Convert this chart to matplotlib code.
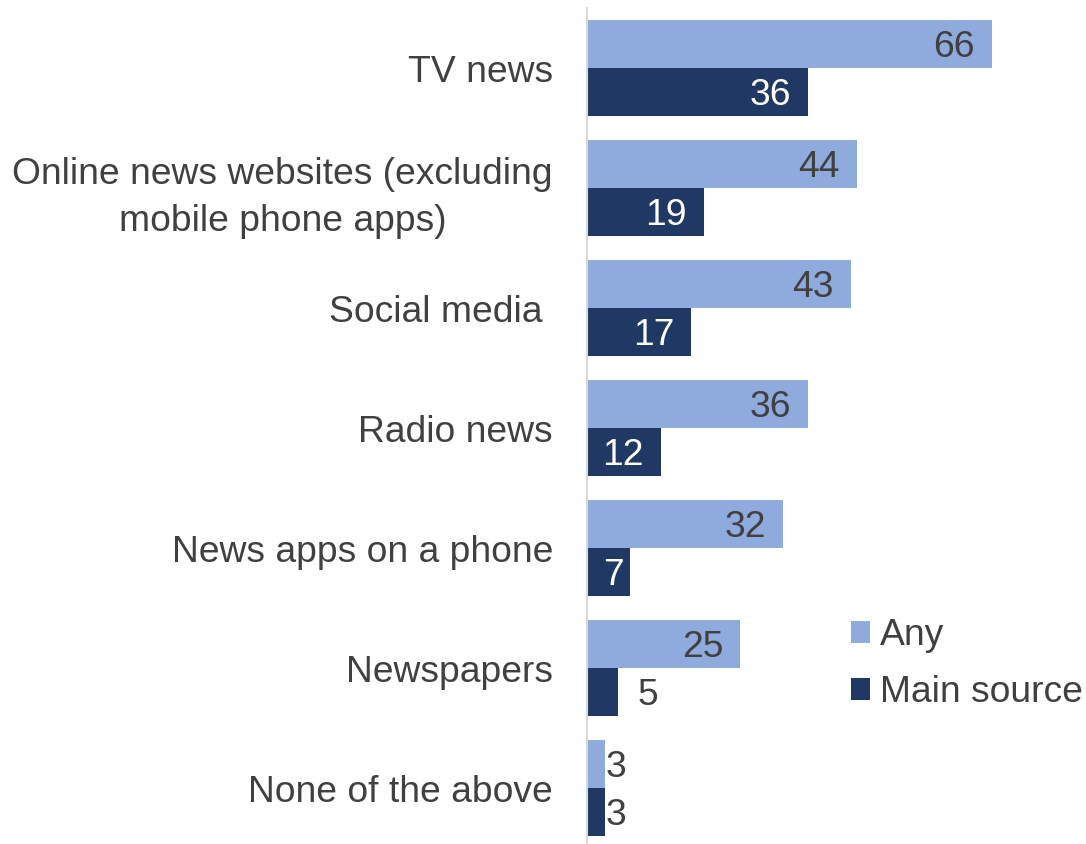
import matplotlib
matplotlib.use("Agg")
import matplotlib.pyplot as plt
import numpy as np

categories = ["TV news", "Online news websites (excluding\nmobile phone apps)", "Social media ",
              "Radio news", "News apps on a phone", "Newspapers", "None of the above"]
any_vals = [66, 44, 43, 36, 32, 25, 3]
main_vals = [36, 19, 17, 12, 7, 5, 3]
series_names = ["Any", "Main source"]

LIGHT = "#8FAADC"
DARK = "#203864"
TXT = "#404040"
FS = 26.8

plt.rcParams['font.family'] = ['Liberation Sans', 'DejaVu Sans']

W, H = 1086, 844
fig = plt.figure(figsize=(W / 100, H / 100), dpi=100)
ax_left = 587 / W
ax_top = 1 - 8 / H
ax_bot = -4 / H
ax = fig.add_axes([ax_left, ax_bot, 1 - ax_left, ax_top - ax_bot])

y = np.arange(len(categories))
h = 0.4
b1 = ax.barh(y - h / 2, any_vals, height=h, color=LIGHT, label=series_names[0])
b2 = ax.barh(y + h / 2, main_vals, height=h, color=DARK, label=series_names[1])

ax.set_xlim(0, (W - 587) / 6.136)
ax.set_ylim(len(categories) - 0.5, -0.5)

ax.set_yticks(y)
ax.set_yticklabels(categories, fontsize=FS, color=TXT, ha='right', multialignment='center',
                   linespacing=1.45)
ax.tick_params(axis='y', length=0, pad=24.5)
ax.set_xticks([])
for s in ['top', 'right', 'bottom']:
    ax.spines[s].set_visible(False)
ax.spines['left'].set_color('#D9D9D9')
ax.spines['left'].set_linewidth(1.5)

PX = 0.72  # points per pixel at dpi 100

def label(bars, vals, incolor):
    for bar, v in zip(bars, vals):
        yc = bar.get_y() + bar.get_height() / 2
        if v >= 7:
            pad = 17 if v >= 10 else 6
            ax.annotate(str(v), (v, yc), xytext=(-pad * PX, -3 * PX), textcoords='offset points',
                        ha='right', va='center', fontsize=FS, color=incolor)
        else:
            off = 20 if v >= 5 else 0
            ax.annotate(str(v), (v, yc), xytext=(off * PX, -3 * PX), textcoords='offset points',
                        ha='left', va='center', fontsize=FS, color=TXT)

label(b1, any_vals, TXT)
label(b2, main_vals, "white")

leg = ax.legend(loc='upper left', bbox_to_anchor=(851 / W, 1 - 618 / H),
                bbox_transform=fig.transFigure, frameon=False, fontsize=FS,
                handlelength=0.52, handleheight=0.52, handletextpad=0.27,
                labelspacing=0.6, borderpad=0, borderaxespad=0)
for t in leg.get_texts():
    t.set_color(TXT)

fig.savefig("out.png", dpi=100)
